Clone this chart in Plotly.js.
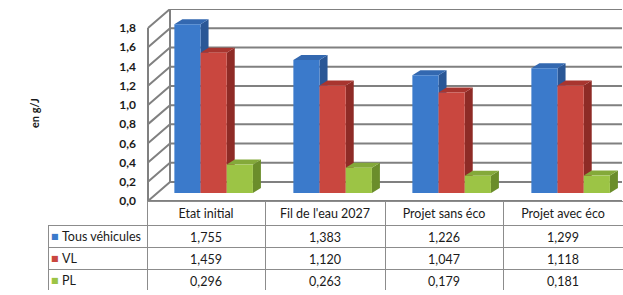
<!DOCTYPE html>
<html>
<head>
<meta charset="utf-8">
<script src="https://cdn.plot.ly/plotly-3.0.1.min.js"></script>
<style>html,body{margin:0;padding:0;background:#fff;}#chart{width:623px;height:295px;}</style>
</head>
<body>
<div id="chart"></div>
<script>
const categories = ["Etat initial", "Fil de l'eau 2027", "Projet sans éco", "Projet avec éco"];
const seriesNames = ["Tous véhicules", "VL", "PL"];
const tousVehicules = [1.755, 1.383, 1.226, 1.299];
const vl = [1.459, 1.120, 1.047, 1.118];
const pl = [0.296, 0.263, 0.179, 0.181];
const yTicks = [0, 0.2, 0.4, 0.6, 0.8, 1.0, 1.2, 1.4, 1.6, 1.8];

const W = 623, H = 295;
const plotLeft = 147, plotRight = 623, plotTop = 9, plotBottom = 201;
const yMin = -0.0833, yMax = 1.915;
const pxPerX = (plotRight - plotLeft) / 4;
const pxPerY = (plotBottom - plotTop) / (yMax - yMin);
const dxU = 8 / pxPerX, dyU = 5 / pxPerY;
const frontOff = -8 / pxPerY, backOff = 11 / pxPerY;
const wallFrontPx = 148, wallBackPx = 170;
const FONT = "Lato, 'Open Sans', sans-serif";
const GRID = "#808080";

const colors = {
  front: ["#3b7acb", "#c9473f", "#9cc445"],
  side: ["#2a5796", "#8e2b26", "#6b8d2b"],
  top: ["#3368b0", "#a8352f", "#84a93a"]
};
const offsets = [-0.27, -0.05, 0.17];
const barW = 0.22;
const seriesVals = [tousVehicules, vl, pl];
const xs = categories.map((c, i) => i);

// wall and gridline frame (lower subplot, behind the bars)
const gx = [], gy = [];
yTicks.forEach(v => {
  gx.push(wallFrontPx, wallBackPx, plotRight - 1, null);
  gy.push(v + frontOff, v + backOff, v + backOff, null);
});
gx.push(wallFrontPx, wallFrontPx, null, wallBackPx, wallBackPx, null, wallFrontPx, plotRight - 1);
gy.push(frontOff, 1.8 + frontOff, null, backOff, 1.8 + backOff, null, frontOff, frontOff);
const frameTrace = {type: "scatter", mode: "lines", x: gx, y: gy, connectgaps: false, cliponaxis: false,
  line: {color: GRID, width: 2}, hoverinfo: "skip", showlegend: false, xaxis: "x", yaxis: "y"};

const barTraces = seriesVals.map((vals, s) => ({
  type: "bar",
  x: xs,
  y: vals,
  name: seriesNames[s],
  offset: offsets[s],
  width: barW,
  marker: {color: colors.front[s], line: {width: 0}},
  hoverinfo: "y",
  showlegend: false,
  xaxis: "x2", yaxis: "y2"
}));

const shapes = [];
function poly(pts, color) {
  shapes.push({type: "path", xref: "x2", yref: "y2", layer: "between",
    path: "M" + pts.map(p => p[0].toFixed(5) + "," + p[1].toFixed(5)).join(" L") + " Z",
    fillcolor: color, line: {width: 0}});
}
// 3D faces of bars
seriesVals.forEach((vals, s) => {
  vals.forEach((v, i) => {
    const xl = i + offsets[s], xr = xl + barW;
    poly([[xr, 0], [xr + dxU, dyU], [xr + dxU, v + dyU], [xr, v]], colors.side[s]);
    poly([[xl, v], [xl + dxU, v + dyU], [xr + dxU, v + dyU], [xr, v]], colors.top[s]);
  });
});

const fmt = v => v.toFixed(3).replace(".", ",");
const cellCols = [seriesNames.map(() => "")].concat(categories.map((c, i) => seriesVals.map(vals => fmt(vals[i]))));

const tableTop = 201, headerH = 24, rowH = 22;
const table = {
  type: "table",
  domain: {x: [48 / W, 1], y: [(H - (tableTop + headerH + 3 * rowH)) / H, (H - tableTop) / H]},
  columnwidth: [99, 118, 120, 118, 120],
  header: {
    values: [""].concat(categories),
    height: headerH,
    align: "center",
    fill: {color: ["rgba(0,0,0,0)", "white", "white", "white", "white"]},
    line: {color: ["rgba(0,0,0,0)", "#8c8c8c", "#8c8c8c", "#8c8c8c", "#8c8c8c"], width: 1},
    font: {family: FONT, size: 12.5, color: "#1a1a1a"}
  },
  cells: {
    values: cellCols,
    height: rowH,
    align: ["left", "center", "center", "center", "center"],
    fill: {color: "white"},
    line: {color: "#8c8c8c", width: 1},
    font: {family: FONT, size: 12.5, color: "#1a1a1a"}
  }
};

const annotations = [{
  text: "en g/J", xref: "paper", yref: "paper", x: 35 / W, y: (H - 113) / H, showarrow: false,
  xanchor: "center", yanchor: "middle",
  textangle: -90, font: {family: FONT, size: 11, color: "#1a1a1a", weight: "bold"}
}];
seriesNames.forEach((n, s) => {
  const yc = (H - (tableTop + headerH + rowH * s + rowH / 2)) / H;
  annotations.push({
    text: "■", xref: "paper", yref: "paper", x: 55 / W, y: yc,
    xanchor: "center", yanchor: "middle", showarrow: false,
    font: {family: "DejaVu Sans", size: 8, color: colors.front[s]}
  });
  annotations.push({
    text: n, xref: "paper", yref: "paper", x: 60 / W, y: yc,
    xanchor: "left", yanchor: "middle", showarrow: false,
    font: {family: FONT, size: 12.5, color: "#1a1a1a"}
  });
});

const yDomain = [(H - plotBottom) / H, (H - plotTop) / H];
const layout = {
  width: W, height: H,
  margin: {l: 0, r: 0, t: 0, b: 0},
  paper_bgcolor: "white", plot_bgcolor: "rgba(255,255,255,0)",
  separators: ", ",
  barmode: "overlay",
  font: {family: FONT, size: 11, color: "#333"},
  xaxis: {domain: [plotLeft / W, 1], range: [plotLeft, plotRight], anchor: "y", showgrid: false, zeroline: false, showticklabels: false, ticks: "", showline: false, fixedrange: true},
  yaxis: {domain: yDomain, range: [yMin, yMax], anchor: "x", showgrid: false, zeroline: false, showline: false, showticklabels: false, ticks: "", fixedrange: true},
  xaxis2: {domain: [plotLeft / W, 1], range: [-0.5, 3.5], anchor: "y2", showgrid: false, zeroline: false, showticklabels: false, ticks: "", showline: false, fixedrange: true},
  yaxis2: {domain: yDomain, range: [yMin, yMax], anchor: "x2", tickvals: yTicks, tickformat: ".1f",
    showgrid: false, zeroline: false, showline: false, ticks: "", ticklabelshift: 8, ticklabelstandoff: 10,
    tickfont: {family: FONT, size: 12, color: "#1a1a1a", weight: "bold"}, fixedrange: true},
  shapes: shapes,
  annotations: annotations
};

Plotly.newPlot("chart", [frameTrace].concat(barTraces, [table]), layout, {displayModeBar: false, staticPlot: true});
</script>
</body>
</html>
